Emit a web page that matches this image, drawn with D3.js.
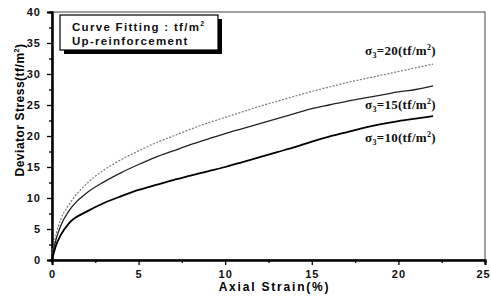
<!DOCTYPE html>
<html>
<head>
<meta charset="utf-8">
<script src="https://cdn.jsdelivr.net/npm/d3@7"></script>
<style>
  body { margin: 0; background: #fff; }
  text { font-family: Arial, "Liberation Sans", sans-serif; }
</style>
</head>
<body>
<div class="chart"></div>
<script>
// data
var strain = [0, 0.25, 0.5, 1, 2, 3, 4, 5, 6, 7, 8, 9, 10, 11, 12, 13, 14, 15, 16, 17, 18, 19, 20, 21, 22];
var stress10 = [0, 2.5, 4, 6, 7.8, 9.2, 10.3, 11.3, 12.1, 12.9, 13.6, 14.3, 15.0, 15.8, 16.6, 17.4, 18.2, 19.1, 19.9, 20.6, 21.3, 21.9, 22.4, 22.8, 23.2];
var stress15 = [0.5, 3.5, 5.5, 8, 10.8, 12.6, 14.1, 15.4, 16.6, 17.6, 18.6, 19.5, 20.4, 21.2, 22, 22.8, 23.6, 24.4, 25, 25.6, 26.1, 26.6, 27.1, 27.5, 28.1];
var stress20 = [1, 4.3, 6.5, 9, 12.3, 14.5, 16.2, 17.6, 18.9, 20, 21.1, 22.1, 23, 23.9, 24.8, 25.6, 26.4, 27.2, 27.9, 28.6, 29.2, 29.8, 30.4, 31, 31.6];
var xTicks = [0, 5, 10, 15, 20, 25];
var yTicks = [0, 5, 10, 15, 20, 25, 30, 35, 40];

var svgWidth = 491;
var svgHeight = 300;
var margin = { top: 12, right: 6, bottom: 40, left: 52 };
var width = svgWidth - margin.left - margin.right;
var height = svgHeight - margin.top - margin.bottom;

var svg = d3.select(".chart").append("svg")
  .attr("width", svgWidth)
  .attr("height", svgHeight);

var chart = svg.append("g")
  .attr("transform", "translate(" + margin.left + "," + margin.top + ")");

var x = d3.scaleLinear().domain([0, 25]).range([0, width]);
var y = d3.scaleLinear().domain([0, 40]).range([height, 0]);

// frame (top + right)
chart.append("rect")
  .attr("x", 0).attr("y", 0)
  .attr("width", width).attr("height", height)
  .attr("fill", "none").attr("stroke", "#444").attr("stroke-width", 1);

// minor ticks
var xMinor = d3.axisBottom(x).tickValues(d3.range(2.5, 25, 5)).tickSize(3).tickFormat("");
var yMinor = d3.axisLeft(y).tickValues(d3.range(2.5, 40, 5)).tickSize(3).tickFormat("");
chart.append("g").attr("transform", "translate(0," + height + ")").call(xMinor);
chart.append("g").call(yMinor);

var bottomAxis = d3.axisBottom(x).tickValues(xTicks).tickSize(5).tickPadding(5);
var leftAxis = d3.axisLeft(y).tickValues(yTicks).tickSize(5).tickPadding(6);

var xg = chart.append("g").attr("transform", "translate(0," + height + ")").call(bottomAxis);
var yg = chart.append("g").call(leftAxis);

chart.selectAll(".domain").attr("stroke", "#000").attr("stroke-width", 2);
chart.selectAll(".tick line").attr("stroke", "#000").attr("stroke-width", 1.3);
chart.selectAll(".tick text")
  .attr("font-size", 11).attr("font-weight", "bold")
  .attr("letter-spacing", 1).attr("fill", "#111");
// last x label sits on the right edge, pull it in a bit
xg.selectAll(".tick text").filter(function(d) { return d === 25; }).attr("dx", -2);

// curves
var line = d3.line()
  .x(function(d) { return x(d[0]); })
  .y(function(d) { return y(d[1]); })
  .curve(d3.curveMonotoneX);

function pairs(vals) {
  return strain.map(function(s, i) { return [s, vals[i]]; });
}

chart.append("path").datum(pairs(stress20))
  .attr("d", line).attr("fill", "none")
  .attr("stroke", "#777").attr("stroke-width", 1.2)
  .attr("stroke-dasharray", "2,1.5");
chart.append("path").datum(pairs(stress15))
  .attr("d", line).attr("fill", "none")
  .attr("stroke", "#222").attr("stroke-width", 1.3);
chart.append("path").datum(pairs(stress10))
  .attr("d", line).attr("fill", "none")
  .attr("stroke", "#000").attr("stroke-width", 1.8);

// curve labels
var curveLabels = [
  { name: "20", py: 43 },
  { name: "15", py: 97 },
  { name: "10", py: 130 }
];
curveLabels.forEach(function(c) {
  var t = chart.append("text")
    .attr("x", 313).attr("y", c.py)
    .attr("font-size", 13).attr("font-weight", "bold").attr("fill", "#111")
    .attr("letter-spacing", 0.3)
    .style("font-family", "'Liberation Serif', 'Times New Roman', serif");
  t.append("tspan").text("σ");
  t.append("tspan").attr("font-size", 8).attr("dy", 3).text("3");
  t.append("tspan").attr("dy", -3).text("=" + c.name + "(tf/m");
  t.append("tspan").attr("font-size", 8).attr("dy", -5).text("2");
  t.append("tspan").attr("dy", 5).text(")");
});

// legend box
var box = chart.append("g").attr("transform", "translate(8,3)");
box.append("rect").attr("x", 4).attr("y", 4).attr("width", 158).attr("height", 35).attr("fill", "#000");
box.append("rect").attr("x", 0).attr("y", 0).attr("width", 158).attr("height", 35)
  .attr("fill", "#fff").attr("stroke", "#000").attr("stroke-width", 1.2);
var l1 = box.append("text").attr("x", 12).attr("y", 16)
  .attr("font-size", 11.5).attr("font-weight", "bold").attr("letter-spacing", 1.3).attr("fill", "#111");
l1.append("tspan").text("Curve Fitting : tf/m");
l1.append("tspan").attr("font-size", 7).attr("dy", -5).text("2");
box.append("text").attr("x", 12).attr("y", 30)
  .attr("font-size", 11.5).attr("font-weight", "bold").attr("letter-spacing", 1.3).attr("fill", "#111")
  .text("Up-reinforcement");

// axis titles
svg.append("text")
  .attr("x", margin.left + x(12.5) + 6).attr("y", 291)
  .attr("text-anchor", "middle")
  .attr("font-size", 12).attr("font-weight", "bold").attr("letter-spacing", 1.8)
  .text("Axial Strain(%)");

var yl = svg.append("text")
  .attr("transform", "translate(24,110) rotate(-90)")
  .attr("text-anchor", "middle")
  .attr("font-size", 12).attr("font-weight", "bold").attr("letter-spacing", 0.5);
yl.append("tspan").text("Deviator Stress(tf/m");
yl.append("tspan").attr("font-size", 7).attr("dy", -5).text("2");
yl.append("tspan").attr("dy", 5).text(")");
</script>
</body>
</html>
